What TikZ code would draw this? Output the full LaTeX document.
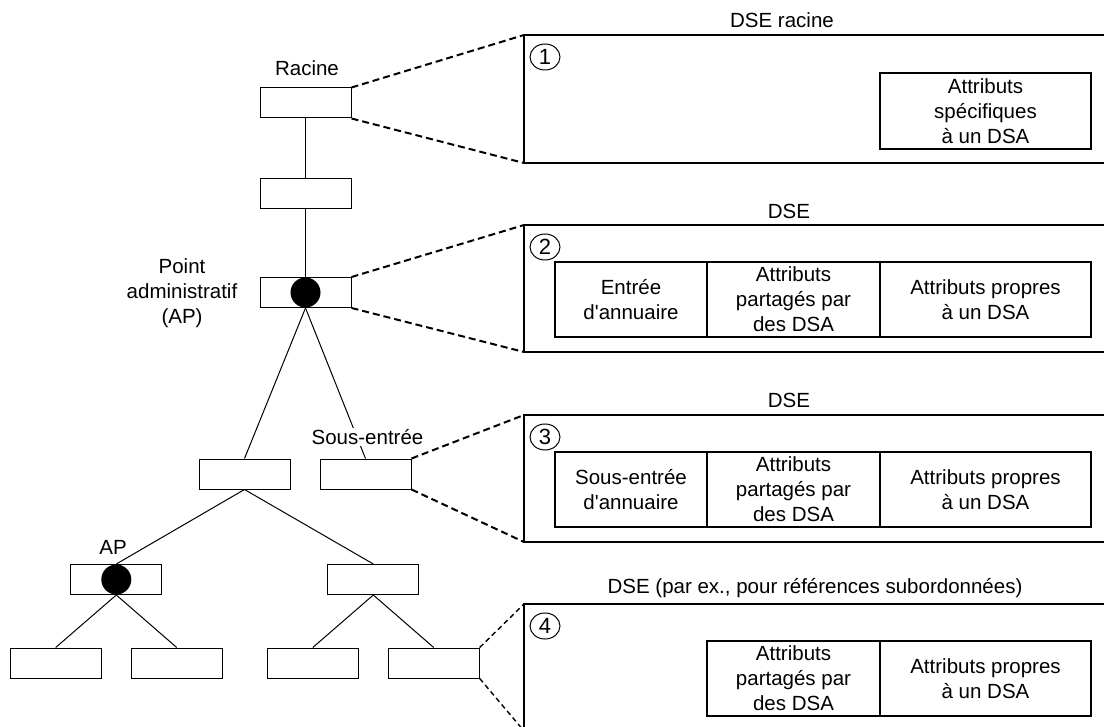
\documentclass[tikz,border=0pt]{standalone}
\usepackage{fontspec}
\setmainfont{Liberation Sans}
\usetikzlibrary{shapes.geometric}
\newcommand{\dfont}{\fontsize{20.5pt}{25pt}\selectfont}
\newcommand{\numfont}{\fontsize{22pt}{25pt}\selectfont}
\begin{document}
\begin{tikzpicture}[x=1pt,y=-1pt,
  treebox/.style={draw, line width=1pt, minimum width=91pt, minimum height=30pt, inner sep=0pt},
  treeline/.style={line width=1pt},
  apdot/.style={fill=black},
  label/.style={font=\dfont, inner sep=1pt, align=center},
  panel/.style={line width=1.3pt},
  zoomline/.style={line width=2pt, dash pattern=on 7pt off 4pt},
  zoomthin/.style={line width=1.4pt, dash pattern=on 5pt off 3.5pt},
  cell/.style={draw, line width=1.2pt, minimum height=75pt, inner sep=0pt, align=center, font=\dfont},
  num/.style={draw, ellipse, line width=1pt, minimum width=30pt, minimum height=26pt, inner sep=0pt, font=\numfont}
]
\clip (0,0) rectangle (1104,727);
\fill[white] (0,0) rectangle (1104,727);
\coordinate (edge) at (1112,0);

% ---------- tree of DSEs ----------
\node[treebox] (racine) at (305.5,103) {};
\node[treebox] (n2) at (305.5,194) {};
\node[treebox] (ap) at (305.5,292.5) {};
\node[treebox] (n3a) at (244.5,474) {};
\node[treebox] (se) at (365.5,474) {};
\node[treebox] (ap2) at (116.3,579.5) {};
\node[treebox] (n4b) at (373.3,579.5) {};
\node[treebox] (l1) at (55.7,663) {};
\node[treebox] (l2) at (176.7,663) {};
\node[treebox] (l3) at (312.8,663) {};
\node[treebox] (l4) at (433.7,663) {};

\draw[treeline] (racine.south) -- (n2.north);
\draw[treeline] (n2.south) -- (ap.north);
\draw[treeline] (ap.south) -- (n3a.north);
\draw[treeline] (ap.south) -- (se.north);
\draw[treeline] (n3a.south) -- (ap2.north);
\draw[treeline] (n3a.south) -- (n4b.north);
\draw[treeline] (ap2.south) -- (l1.north);
\draw[treeline] (ap2.south) -- (l2.north);
\draw[treeline] (n4b.south) -- (l3.north);
\draw[treeline] (n4b.south) -- (l4.north);

% administrative points
\fill[apdot] (ap.center) circle (15);
\fill[apdot] (ap2.center) circle (15);

% tree labels
\node[label] (lracine) at (307,68) {Racine};
\node[label] (lap) at (182,293) {Point\\administratif\\(AP)};
\node[label, fill=white] (lse) at (367.5,437) {Sous-entrée};
\node[label] (lap2) at (113,547) {AP};

% ---------- panel 1 : DSE racine ----------
\coordinate (p1t) at (524,35);
\coordinate (p1b) at (524,163);
\draw[panel] (p1t -| edge) -- (p1t) -- (p1b) -- (p1b -| edge);
\node[label] (t1) at (782,20) {DSE racine};
\node[num] (c1) at (545,57) {1};
\node[cell, minimum width=211pt, minimum height=76pt] (b11) at (985.5,111) {Attributs\\spécifiques\\à un DSA};
\draw[zoomline] (racine.north east) -- (p1t);
\draw[zoomline] (racine.south east) -- (p1b);

% ---------- panel 2 : DSE ----------
\coordinate (p2t) at (524,225);
\coordinate (p2b) at (524,352);
\draw[panel] (p2t -| edge) -- (p2t) -- (p2b) -- (p2b -| edge);
\node[label] (t2) at (789,211) {DSE};
\node[num] (c2) at (545,247) {2};
\node[cell, minimum width=152pt] (b21) at (631,299.5) {Entrée\\d\textquotesingle annuaire};
\node[cell, minimum width=173pt] (b22) at (793.5,299.5) {Attributs\\partagés par\\des DSA};
\node[cell, minimum width=211pt] (b23) at (985.5,299.5) {Attributs propres\\à un DSA};
\draw[zoomline] (ap.north east) -- (p2t);
\draw[zoomline] (ap.south east) -- (p2b);

% ---------- panel 3 : DSE ----------
\coordinate (p3t) at (524,415);
\coordinate (p3b) at (524,542);
\draw[panel] (p3t -| edge) -- (p3t) -- (p3b) -- (p3b -| edge);
\node[label] (t3) at (789,400) {DSE};
\node[num] (c3) at (545,437) {3};
\node[cell, minimum width=152pt] (b31) at (631,489.5) {Sous-entrée\\d\textquotesingle annuaire};
\node[cell, minimum width=173pt] (b32) at (793.5,489.5) {Attributs\\partagés par\\des DSA};
\node[cell, minimum width=211pt] (b33) at (985.5,489.5) {Attributs propres\\à un DSA};
\draw[zoomline] (se.north east) -- (p3t);
\draw[zoomline] (se.south east) -- (p3b);

% ---------- panel 4 : DSE of a subordinate reference ----------
\coordinate (p4t) at (524,604);
\coordinate (p4b) at (524,731);
\draw[panel] (p4t -| edge) -- (p4t) -- (p4b);
\node[label] (t4) at (815,588) {DSE (par ex., pour références subordonnées)};
\node[num] (c4) at (545,626) {4};
\node[cell, minimum width=173pt] (b42) at (793.5,678.5) {Attributs\\partagés par\\des DSA};
\node[cell, minimum width=211pt] (b43) at (985.5,678.5) {Attributs propres\\à un DSA};
\draw[zoomthin] (l4.north east) -- (p4t);
\draw[zoomthin] (l4.south east) -- (p4b);
\end{tikzpicture}
\end{document}
